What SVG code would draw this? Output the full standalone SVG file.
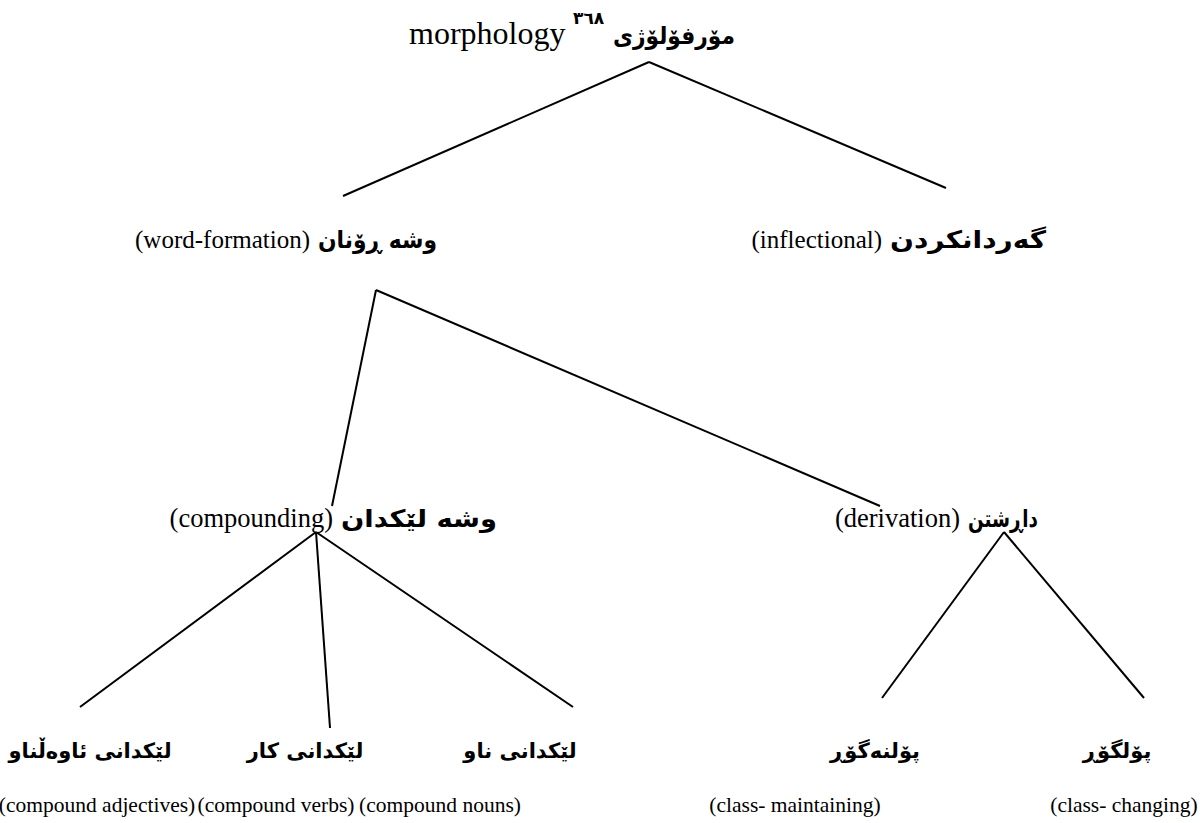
<svg xmlns="http://www.w3.org/2000/svg" width="1203" height="823" viewBox="0 0 1203 823">
<style>
.en{font-family:"Liberation Serif","Times New Roman",serif;font-size:25px;fill:#000}
.t{font-size:32px}
.m{font-size:26.5px}
.b{font-size:21.5px}
.ku{font-family:"DejaVu Sans","Noto Sans",sans-serif;font-weight:bold;font-size:24px;fill:#000}
.kb{font-size:21px}
.sup{font-family:"DejaVu Sans",sans-serif;font-weight:bold;font-size:17px;fill:#000}
.ln{stroke:#000;stroke-width:2;fill:none}
</style>
<rect width="1203" height="823" fill="#fff"/>
<g id="connectors">
<line class="ln" x1="649" y1="62" x2="343" y2="196"/>
<line class="ln" x1="649" y1="62" x2="946" y2="188"/>
<line class="ln" x1="376" y1="290" x2="332" y2="506"/>
<line class="ln" x1="376" y1="290" x2="880" y2="506"/>
<line class="ln" x1="316" y1="532" x2="80" y2="707"/>
<line class="ln" x1="316" y1="532" x2="330" y2="728"/>
<line class="ln" x1="316" y1="532" x2="573" y2="707"/>
<line class="ln" x1="1004" y1="532" x2="882" y2="698"/>
<line class="ln" x1="1004" y1="532" x2="1144" y2="698"/>
</g>
<g id="n-morphology">
<text class="en t" x="409" y="44">morphology</text>
<text class="sup" x="573" y="24">٣٦٨</text>
<text class="ku" x="613" y="44" textLength="122" lengthAdjust="spacingAndGlyphs">مۆرفۆلۆژی</text>
</g>
<g id="n-wordformation">
<text class="en" x="310" y="248" text-anchor="end">(word-formation)</text>
<text class="ku" x="318" y="248" textLength="119" lengthAdjust="spacingAndGlyphs">وشه ڕۆنان</text>
</g>
<g id="n-inflectional">
<text class="en" x="882" y="248" text-anchor="end">(inflectional)</text>
<text class="ku" x="890" y="248" textLength="156" lengthAdjust="spacingAndGlyphs">گەردانکردن</text>
</g>
<g id="n-compounding">
<text class="en m" x="333" y="527" text-anchor="end">(compounding)</text>
<text class="ku" x="341" y="527" textLength="156" lengthAdjust="spacingAndGlyphs">وشه لێکدان</text>
</g>
<g id="n-derivation">
<text class="en m" x="960" y="527" text-anchor="end">(derivation)</text>
<text class="ku" x="968" y="527" textLength="70" lengthAdjust="spacingAndGlyphs">داڕشتن</text>
</g>
<g id="n-adj">
<text class="ku kb" x="90" y="758" text-anchor="middle">لێکدانی ئاوەڵناو</text>
<text class="en b" x="97" y="812" text-anchor="middle">(compound adjectives)</text>
</g>
<g id="n-verbs">
<text class="ku kb" x="305" y="758" text-anchor="middle">لێکدانی کار</text>
<text class="en b" x="276" y="812" text-anchor="middle">(compound verbs)</text>
</g>
<g id="n-nouns">
<text class="ku kb" x="520" y="758" text-anchor="middle">لێکدانی ناو</text>
<text class="en b" x="440" y="812" text-anchor="middle">(compound nouns)</text>
</g>
<g id="n-maintaining">
<text class="ku kb" x="875" y="758" text-anchor="middle">پۆلنەگۆڕ</text>
<text class="en b" x="795" y="812" text-anchor="middle">(class- maintaining)</text>
</g>
<g id="n-changing">
<text class="ku kb" x="1117" y="758" text-anchor="middle">پۆلگۆڕ</text>
<text class="en b" x="1124" y="812" text-anchor="middle">(class- changing)</text>
</g>
</svg>
